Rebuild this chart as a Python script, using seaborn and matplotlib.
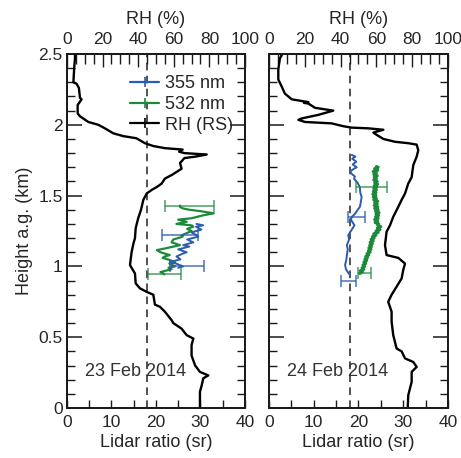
import matplotlib
matplotlib.use('Agg')
import matplotlib.pyplot as plt
import seaborn as sns
import pandas as pd
from matplotlib.lines import Line2D
from matplotlib.ticker import MultipleLocator, FuncFormatter

sns.set_theme(style='ticks')
plt.rcParams['font.family'] = ['Liberation Sans', 'DejaVu Sans']

# ---------------- data ----------------
# 23 Feb 2014: radiosonde RH profile (height km, RH %)
rh23_h = [0, 0.06, 0.115, 0.16, 0.21, 0.23, 0.255, 0.30, 0.37, 0.445, 0.49, 0.515, 0.56, 0.60, 0.62,
          0.68, 0.715, 0.73, 0.80, 0.82, 0.845, 0.88, 0.95, 0.99, 1.01, 1.10, 1.16, 1.20, 1.27, 1.34,
          1.40, 1.47, 1.515, 1.54, 1.56, 1.585, 1.62, 1.645, 1.66, 1.69, 1.73, 1.765, 1.775, 1.79,
          1.80, 1.81, 1.825, 1.835, 1.85, 1.87, 1.905, 1.92, 1.94, 1.975, 2.00, 2.02, 2.06, 2.08,
          2.14, 2.18, 2.19, 2.26, 2.29, 2.30, 2.41, 2.47, 2.5]
rh23 = [74.7, 74.7, 74.7, 75.7, 76.6, 79.4, 74.7, 72.0, 70.0, 70.0, 71.0, 67.2, 64.4, 59.7, 58.8,
        55.0, 52.2, 49.4, 48.5, 44.8, 41.0, 38.6, 38.2, 36.3, 35.4, 36.3, 37.3, 38.2, 38.6, 40.0,
        41.6, 42.9, 44.8, 47.6, 50.4, 53.2, 55.0, 58.8, 60.7, 64.4, 63.5, 66.0, 72.0, 78.5,
        66.0, 63.0, 65.0, 55.0, 48.5, 43.8, 39.0, 31.6, 26.0, 21.3, 17.6, 12.0, 7.3, 6.0,
        6.0, 8.2, 7.3, 6.7, 5.4, 3.6, 4.1, 4.5, 4.5]

# 24 Feb 2014: radiosonde RH profile
rh24_h = [0, 0.09, 0.185, 0.255, 0.29, 0.325, 0.35, 0.40, 0.42, 0.515, 0.61, 0.68, 0.75, 0.80,
          0.857, 0.915, 0.975, 1.02, 1.06, 1.08, 1.15, 1.245, 1.29, 1.35, 1.42, 1.47, 1.515, 1.585,
          1.63, 1.715, 1.775, 1.82, 1.86, 1.87, 1.88, 1.90, 1.93, 1.945, 1.965, 1.975, 1.98, 1.99,
          2.01, 2.02, 2.035, 2.045, 2.07, 2.10, 2.12, 2.15, 2.155, 2.16, 2.18, 2.22, 2.27, 2.32,
          2.39, 2.47, 2.49, 2.5]
rh24 = [77.5, 77.8, 79.7, 79.7, 82.5, 80.6, 76.0, 74.1, 71.3, 69.4, 68.5, 68.5, 66.6, 68.5,
        71.3, 74.1, 75.0, 76.0, 72.2, 65.7, 64.8, 65.7, 67.6, 69.4, 72.2, 74.1, 76.0, 77.8,
        79.7, 80.6, 82.5, 83.4, 82.5, 77.8, 70.4, 63.9, 60.0, 58.3, 63.9, 55.5, 46.2, 41.5,
        35.0, 20.1, 16.4, 18.3, 27.5, 35.9, 25.7, 22.0, 19.5, 22.0, 12.7, 8.9, 7.1, 5.2,
        5.2, 6.1, 7.1, 6.5]

# 23 Feb lidar ratio profiles (sr)
lr355_23_h = [0.99, 1.00, 1.02, 1.03, 1.05, 1.07, 1.09, 1.10, 1.12, 1.14, 1.15, 1.17, 1.19, 1.21,
              1.22, 1.24, 1.26, 1.28, 1.29, 1.30]
lr355_23 = [25.0, 26.1, 24.5, 23.1, 25.5, 24.6, 26.0, 26.9, 25.0, 27.5, 26.1, 28.4, 27.0, 29.5,
            29.1, 28.0, 30.2, 29.0, 30.6, 29.1]
lr532_23_h = [0.944, 0.96, 0.98, 0.99, 1.00, 1.02, 1.03, 1.045, 1.06, 1.07, 1.08, 1.10, 1.115, 1.13,
              1.15, 1.17, 1.19, 1.21, 1.22, 1.235, 1.25, 1.265, 1.28, 1.29, 1.30, 1.315, 1.33, 1.34,
              1.36, 1.375, 1.39, 1.40, 1.41, 1.42, 1.43]
lr532_23 = [21.9, 21.0, 23.5, 22.8, 24.3, 23.0, 24.3, 23.1, 21.5, 22.0, 23.1, 21.0, 20.2, 22.5,
            25.4, 23.5, 23.9, 26.0, 25.8, 26.9, 28.0, 27.0, 28.4, 28.0, 24.6, 26.9, 25.0, 28.0,
            30.5, 33.0, 30.0, 27.5, 26.0, 25.4, 25.4]

# 24 Feb lidar ratio profiles (sr)
lr355_24_h = [0.94, 0.96, 0.98, 1.01, 1.05, 1.08, 1.12, 1.15, 1.19, 1.22, 1.25, 1.29, 1.30, 1.33,
              1.35, 1.37, 1.39, 1.42, 1.45, 1.49, 1.52, 1.56, 1.59, 1.62, 1.635, 1.65, 1.67, 1.69,
              1.70, 1.72, 1.74, 1.76, 1.775, 1.787]
lr355_24 = [18.1, 17.6, 17.2, 17.0, 17.3, 17.4, 17.6, 17.4, 17.9, 17.7, 18.3, 19.1, 18.9, 18.3,
            18.5, 19.2, 19.6, 20.3, 20.5, 20.7, 20.4, 20.3, 19.8, 19.0, 19.2, 18.6, 18.1, 19.0,
            19.6, 18.7, 19.5, 18.6, 19.3, 18.5]
lr532_24_h = [0.95, 0.96, 0.97, 0.98, 0.99, 1.00, 1.01, 1.02, 1.03, 1.04, 1.05, 1.06, 1.07, 1.08,
              1.09, 1.10, 1.11, 1.12, 1.13, 1.14, 1.15, 1.16, 1.17, 1.18, 1.19, 1.20, 1.21, 1.22,
              1.23, 1.24, 1.25, 1.26, 1.27, 1.28, 1.29, 1.30, 1.31, 1.32, 1.33, 1.34, 1.35, 1.36,
              1.37, 1.38, 1.39, 1.40, 1.41, 1.42, 1.43, 1.44, 1.45, 1.46, 1.47, 1.48, 1.49, 1.50,
              1.51, 1.52, 1.53, 1.54, 1.55, 1.56, 1.57, 1.58, 1.59, 1.60, 1.61, 1.62, 1.63, 1.64,
              1.65, 1.66, 1.67, 1.68, 1.69, 1.70, 1.705]
lr532_24 = [20.3, 20.9, 20.4, 21.2, 20.8, 21.4, 21.0, 21.6, 21.2, 21.8, 21.4, 22.0, 21.6, 22.3,
            21.9, 22.6, 22.2, 22.8, 22.3, 22.9, 22.5, 23.1, 22.6, 23.3, 22.8, 23.5, 23.1, 23.9,
            23.4, 24.4, 23.9, 24.8, 24.2, 25.0, 24.3, 24.5, 23.7, 24.3, 23.6, 24.4, 23.8, 24.5,
            23.9, 24.6, 23.8, 24.4, 23.6, 24.3, 23.5, 24.2, 23.6, 24.3, 23.4, 24.0, 23.3, 23.9,
            23.2, 23.9, 23.3, 24.0, 23.4, 24.1, 23.5, 24.3, 23.6, 24.2, 23.4, 24.0, 23.5, 24.2,
            23.4, 24.0, 23.3, 24.3, 23.6, 24.4, 24.0]

# error bars: (height, centre sr, half-width sr)
err355_23 = ([1.22, 1.00], [25.4, 27.0], [4.1, 3.9])
err532_23 = ([1.43, 0.944], [27.5, 21.9], [5.5, 3.75])
err355_24 = ([1.35, 0.897], [19.5, 17.8], [1.95, 1.6])
err532_24 = ([1.56, 0.95], [23.0, 21.4], [3.45, 1.4])

ref_lr = 18
labels = ['355 nm', '532 nm', 'RH (RS)']
dates = ['23 Feb 2014', '24 Feb 2014']

BLUE = '#2a5cb0'
GREEN = '#1d8a3b'
INK = '#1a1a1a'
FS_TICK = 12.5
FS_LAB = 13

fig = plt.figure(figsize=(4.61, 4.58), dpi=100)
axL = fig.add_axes([0.1453, 0.1092, 0.3861, 0.7729])
axR = fig.add_axes([0.5835, 0.1092, 0.3883, 0.7729])


def panel(ax, rh_h, rh, b_h, b_sr, g_h, g_sr, eb, eg, date, glw, show_y):
    ax.axvline(ref_lr, color='#222222', ls=(0, (5, 3.5)), lw=1.1, zorder=1)
    sns.lineplot(data=pd.DataFrame({'sr': b_sr, 'h': b_h}), x='sr', y='h', ax=ax, sort=False,
                 estimator=None, color=BLUE, lw=1.4, zorder=3)
    sns.lineplot(data=pd.DataFrame({'sr': g_sr, 'h': g_h}), x='sr', y='h', ax=ax, sort=False,
                 estimator=None, color=GREEN, lw=glw, zorder=2)
    ax.errorbar(eb[1], eb[0], xerr=eb[2], fmt='none', ecolor=BLUE, elinewidth=1.1, capsize=4,
                capthick=1.1, alpha=0.85, zorder=4)
    ax.errorbar(eg[1], eg[0], xerr=eg[2], fmt='none', ecolor=GREEN, elinewidth=1.1, capsize=4,
                capthick=1.1, alpha=0.8, zorder=4)
    ax.text(15.4, 0.26, date, ha='center', va='center', fontsize=13, color='#333333')

    axt = ax.twiny()
    sns.lineplot(data=pd.DataFrame({'rh': rh, 'h': rh_h}), x='rh', y='h', ax=axt, sort=False,
                 estimator=None, color='black', lw=1.7)
    axt.set_xlim(0, 100)
    ax.set_xlim(0, 40)
    ax.set_ylim(0, 2.5)
    axt.set_ylim(0, 2.5)

    ax.set_xlabel('Lidar ratio (sr)', fontsize=FS_LAB, labelpad=3)
    ax.set_ylabel('Height a.g. (km)' if show_y else '', fontsize=FS_LAB, labelpad=4)
    axt.set_xlabel('RH (%)', fontsize=FS_LAB, labelpad=6)
    axt.set_ylabel('')

    ax.xaxis.set_major_locator(MultipleLocator(10))
    ax.xaxis.set_minor_locator(MultipleLocator(5))
    ax.yaxis.set_major_locator(MultipleLocator(0.5))
    ax.yaxis.set_minor_locator(MultipleLocator(0.1))
    ax.yaxis.set_major_formatter(FuncFormatter(lambda v, p: f'{v:g}'))
    ax.tick_params(axis='y', which='both', direction='in', left=True, right=True,
                   labelleft=show_y, labelsize=FS_TICK, color=INK, pad=3)
    ax.tick_params(axis='y', which='major', length=11, width=1.1)
    ax.tick_params(axis='y', which='minor', length=6, width=1.0)
    ax.tick_params(axis='x', which='both', direction='in', bottom=True, top=False,
                   labelsize=FS_TICK, length=6, width=1.0, color=INK, pad=5)

    axt.xaxis.set_major_locator(MultipleLocator(20))
    axt.xaxis.set_minor_locator(MultipleLocator(5))
    axt.tick_params(axis='x', which='both', direction='in', top=True, bottom=False,
                    labelsize=FS_TICK, width=1.0, color=INK, pad=5)
    axt.tick_params(axis='x', which='major', length=9)
    axt.tick_params(axis='x', which='minor', length=7)

    for a in (ax, axt):
        for s in a.spines.values():
            s.set_color(INK)
            s.set_linewidth(1.3)
    return axt


tL = panel(axL, rh23_h, rh23, lr355_23_h, lr355_23, lr532_23_h, lr532_23,
           err355_23, err532_23, dates[0], 1.6, True)
tR = panel(axR, rh24_h, rh24, lr355_24_h, lr355_24, lr532_24_h, lr532_24,
           err355_24, err532_24, dates[1], 2.2, False)

handles = [Line2D([0], [0], color=c, lw=1.6, marker='|', markersize=7, markeredgewidth=1.2)
           for c in (BLUE, GREEN, 'black')]
tL.legend(handles, labels, loc='upper left', bbox_to_anchor=(0.315, 0.96), frameon=False,
          fontsize=13, handlelength=1.6, labelspacing=0.2, handletextpad=0.3, borderaxespad=0)

fig.savefig('out.png', dpi=100)
